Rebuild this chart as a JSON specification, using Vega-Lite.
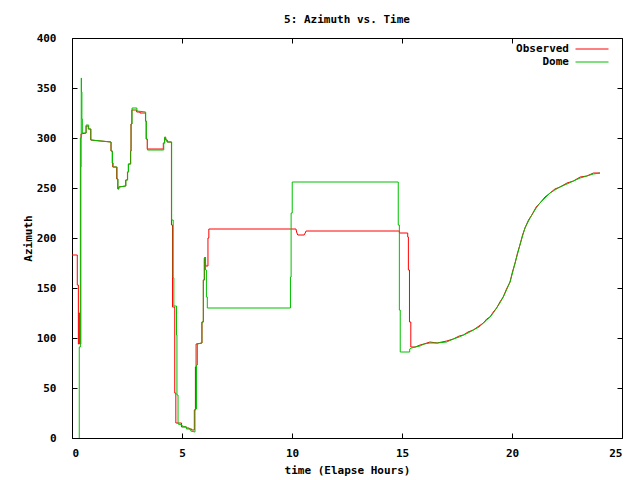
{
  "$schema": "https://vega.github.io/schema/vega-lite/v6.json",
  "width": 550,
  "height": 400,
  "autosize": {"type": "none"},
  "padding": {"left": 72, "top": 38, "right": 18, "bottom": 42},
  "background": "white",
  "title": {"text": "5: Azimuth vs. Time", "font": "DejaVu Sans Mono", "fontSize": 11, "fontWeight": "bold", "color": "black", "offset": 7},
  "config": {
    "view": {"stroke": "black", "strokeWidth": 1},
    "axis": {"domain": false, "grid": false, "ticks": true, "tickColor": "black", "tickSize": -5, "tickWidth": 1,
      "labelFont": "DejaVu Sans Mono", "labelFontSize": 11, "labelFontWeight": "bold", "labelColor": "black",
      "titleFont": "DejaVu Sans Mono", "titleFontSize": 11, "titleFontWeight": "bold", "titleColor": "black"}
  },
  "data": {"values": [
    {"s":"Observed","t":0,"v":183},{"s":"Observed","t":0.24,"v":183},{"s":"Observed","t":0.24,"v":153},{"s":"Observed","t":0.29,"v":153},{"s":"Observed","t":0.29,"v":94},{"s":"Observed","t":0.32,"v":94},{"s":"Observed","t":0.32,"v":125},{"s":"Observed","t":0.35,"v":125},{"s":"Observed","t":0.35,"v":94},{"s":"Observed","t":0.40,"v":94},{"s":"Observed","t":0.40,"v":271},{"s":"Observed","t":0.41,"v":271},{"s":"Observed","t":0.41,"v":304},{"s":"Observed","t":0.64,"v":305},{"s":"Observed","t":0.64,"v":312},{"s":"Observed","t":0.74,"v":312},{"s":"Observed","t":0.74,"v":309},{"s":"Observed","t":0.85,"v":309},{"s":"Observed","t":0.85,"v":298},{"s":"Observed","t":1.77,"v":296},{"s":"Observed","t":1.77,"v":287},{"s":"Observed","t":1.83,"v":287},{"s":"Observed","t":1.83,"v":275},{"s":"Observed","t":1.85,"v":275},{"s":"Observed","t":1.85,"v":271},{"s":"Observed","t":2.03,"v":271},{"s":"Observed","t":2.03,"v":259},{"s":"Observed","t":2.08,"v":259},{"s":"Observed","t":2.08,"v":249},{"s":"Observed","t":2.12,"v":249},{"s":"Observed","t":2.12,"v":251},{"s":"Observed","t":2.44,"v":252},{"s":"Observed","t":2.44,"v":258},{"s":"Observed","t":2.52,"v":258},{"s":"Observed","t":2.52,"v":266},{"s":"Observed","t":2.56,"v":266},{"s":"Observed","t":2.56,"v":274},{"s":"Observed","t":2.66,"v":274},{"s":"Observed","t":2.66,"v":287},{"s":"Observed","t":2.68,"v":287},{"s":"Observed","t":2.68,"v":314},{"s":"Observed","t":2.72,"v":314},{"s":"Observed","t":2.72,"v":328},{"s":"Observed","t":2.94,"v":328},{"s":"Observed","t":2.94,"v":326},{"s":"Observed","t":3.09,"v":326},{"s":"Observed","t":3.09,"v":325},{"s":"Observed","t":3.34,"v":325},{"s":"Observed","t":3.34,"v":317},{"s":"Observed","t":3.37,"v":317},{"s":"Observed","t":3.37,"v":299},{"s":"Observed","t":3.42,"v":299},{"s":"Observed","t":3.42,"v":289},{"s":"Observed","t":4.15,"v":289},{"s":"Observed","t":4.15,"v":295},{"s":"Observed","t":4.21,"v":295},{"s":"Observed","t":4.21,"v":300},{"s":"Observed","t":4.26,"v":300},{"s":"Observed","t":4.26,"v":298},{"s":"Observed","t":4.33,"v":298},{"s":"Observed","t":4.33,"v":296},{"s":"Observed","t":4.52,"v":296},{"s":"Observed","t":4.52,"v":213},{"s":"Observed","t":4.57,"v":213},{"s":"Observed","t":4.57,"v":131},{"s":"Observed","t":4.67,"v":131},{"s":"Observed","t":4.67,"v":45},{"s":"Observed","t":4.72,"v":45},{"s":"Observed","t":4.72,"v":15},{"s":"Observed","t":4.98,"v":15},{"s":"Observed","t":4.98,"v":11},{"s":"Observed","t":5.21,"v":11},{"s":"Observed","t":5.21,"v":10},{"s":"Observed","t":5.33,"v":10},{"s":"Observed","t":5.33,"v":9},{"s":"Observed","t":5.44,"v":9},{"s":"Observed","t":5.44,"v":8},{"s":"Observed","t":5.56,"v":8},{"s":"Observed","t":5.56,"v":28},{"s":"Observed","t":5.61,"v":28},{"s":"Observed","t":5.61,"v":71},{"s":"Observed","t":5.64,"v":71},{"s":"Observed","t":5.64,"v":94},{"s":"Observed","t":5.91,"v":95},{"s":"Observed","t":5.91,"v":116},{"s":"Observed","t":5.97,"v":116},{"s":"Observed","t":5.97,"v":158},{"s":"Observed","t":6.02,"v":158},{"s":"Observed","t":6.02,"v":178},{"s":"Observed","t":6.05,"v":181},{"s":"Observed","t":6.07,"v":175},{"s":"Observed","t":6.08,"v":172},{"s":"Observed","t":6.18,"v":172},{"s":"Observed","t":6.18,"v":200},{"s":"Observed","t":6.22,"v":200},{"s":"Observed","t":6.22,"v":209},{"s":"Observed","t":10.18,"v":209},{"s":"Observed","t":10.21,"v":206},{"s":"Observed","t":10.26,"v":203},{"s":"Observed","t":10.55,"v":203},{"s":"Observed","t":10.60,"v":205},{"s":"Observed","t":10.64,"v":207},{"s":"Observed","t":14.88,"v":207},{"s":"Observed","t":14.88,"v":205},{"s":"Observed","t":15.26,"v":205},{"s":"Observed","t":15.26,"v":201},{"s":"Observed","t":15.29,"v":201},{"s":"Observed","t":15.29,"v":168},{"s":"Observed","t":15.34,"v":168},{"s":"Observed","t":15.34,"v":116},{"s":"Observed","t":15.40,"v":116},{"s":"Observed","t":15.40,"v":91},{"s":"Observed","t":15.6,"v":91},{"s":"Observed","t":15.82,"v":93},{"s":"Observed","t":16.0,"v":94},{"s":"Observed","t":16.27,"v":96},{"s":"Observed","t":16.6,"v":95},{"s":"Observed","t":17.03,"v":97},{"s":"Observed","t":17.33,"v":99},{"s":"Observed","t":17.6,"v":102},{"s":"Observed","t":17.79,"v":103},{"s":"Observed","t":18.0,"v":106},{"s":"Observed","t":18.24,"v":108},{"s":"Observed","t":18.5,"v":112},{"s":"Observed","t":18.70,"v":115},{"s":"Observed","t":18.85,"v":119},{"s":"Observed","t":19.0,"v":121},{"s":"Observed","t":19.15,"v":126},{"s":"Observed","t":19.30,"v":130},{"s":"Observed","t":19.45,"v":136},{"s":"Observed","t":19.60,"v":141},{"s":"Observed","t":19.75,"v":149},{"s":"Observed","t":19.91,"v":156},{"s":"Observed","t":20.02,"v":166},{"s":"Observed","t":20.14,"v":175},{"s":"Observed","t":20.25,"v":185},{"s":"Observed","t":20.36,"v":193},{"s":"Observed","t":20.48,"v":203},{"s":"Observed","t":20.59,"v":210},{"s":"Observed","t":20.75,"v":218},{"s":"Observed","t":20.90,"v":223},{"s":"Observed","t":21.1,"v":231},{"s":"Observed","t":21.27,"v":235},{"s":"Observed","t":21.5,"v":241},{"s":"Observed","t":21.73,"v":245},{"s":"Observed","t":21.95,"v":249},{"s":"Observed","t":22.18,"v":251},{"s":"Observed","t":22.5,"v":255},{"s":"Observed","t":22.79,"v":257},{"s":"Observed","t":23.1,"v":261},{"s":"Observed","t":23.40,"v":262},{"s":"Observed","t":23.7,"v":265},{"s":"Observed","t":24.0,"v":265},
    {"s":"Dome","t":0.33,"v":0},{"s":"Dome","t":0.33,"v":91},{"s":"Dome","t":0.38,"v":91},{"s":"Dome","t":0.38,"v":300},{"s":"Dome","t":0.42,"v":300},{"s":"Dome","t":0.42,"v":360},{"s":"Dome","t":0.43,"v":360},{"s":"Dome","t":0.43,"v":346},{"s":"Dome","t":0.45,"v":346},{"s":"Dome","t":0.45,"v":319},{"s":"Dome","t":0.47,"v":319},{"s":"Dome","t":0.47,"v":305},{"s":"Dome","t":0.64,"v":305},{"s":"Dome","t":0.64,"v":313},{"s":"Dome","t":0.76,"v":313},{"s":"Dome","t":0.76,"v":309},{"s":"Dome","t":0.86,"v":309},{"s":"Dome","t":0.86,"v":298},{"s":"Dome","t":1.78,"v":296},{"s":"Dome","t":1.78,"v":287},{"s":"Dome","t":1.84,"v":287},{"s":"Dome","t":1.84,"v":275},{"s":"Dome","t":1.87,"v":275},{"s":"Dome","t":1.87,"v":271},{"s":"Dome","t":2.05,"v":271},{"s":"Dome","t":2.05,"v":259},{"s":"Dome","t":2.09,"v":259},{"s":"Dome","t":2.09,"v":249},{"s":"Dome","t":2.13,"v":249},{"s":"Dome","t":2.13,"v":251},{"s":"Dome","t":2.45,"v":252},{"s":"Dome","t":2.45,"v":258},{"s":"Dome","t":2.53,"v":258},{"s":"Dome","t":2.53,"v":266},{"s":"Dome","t":2.57,"v":266},{"s":"Dome","t":2.57,"v":274},{"s":"Dome","t":2.67,"v":274},{"s":"Dome","t":2.67,"v":287},{"s":"Dome","t":2.69,"v":287},{"s":"Dome","t":2.69,"v":314},{"s":"Dome","t":2.73,"v":314},{"s":"Dome","t":2.73,"v":330},{"s":"Dome","t":2.95,"v":330},{"s":"Dome","t":2.95,"v":327},{"s":"Dome","t":3.35,"v":326},{"s":"Dome","t":3.35,"v":317},{"s":"Dome","t":3.38,"v":317},{"s":"Dome","t":3.38,"v":299},{"s":"Dome","t":3.43,"v":299},{"s":"Dome","t":3.43,"v":288},{"s":"Dome","t":4.17,"v":288},{"s":"Dome","t":4.17,"v":295},{"s":"Dome","t":4.21,"v":295},{"s":"Dome","t":4.21,"v":301},{"s":"Dome","t":4.26,"v":301},{"s":"Dome","t":4.26,"v":298},{"s":"Dome","t":4.32,"v":298},{"s":"Dome","t":4.32,"v":296},{"s":"Dome","t":4.53,"v":296},{"s":"Dome","t":4.53,"v":218},{"s":"Dome","t":4.60,"v":218},{"s":"Dome","t":4.60,"v":160},{"s":"Dome","t":4.63,"v":160},{"s":"Dome","t":4.63,"v":132},{"s":"Dome","t":4.75,"v":132},{"s":"Dome","t":4.75,"v":103},{"s":"Dome","t":4.77,"v":103},{"s":"Dome","t":4.77,"v":43},{"s":"Dome","t":4.82,"v":43},{"s":"Dome","t":4.82,"v":14},{"s":"Dome","t":5.0,"v":13},{"s":"Dome","t":5.0,"v":12},{"s":"Dome","t":5.2,"v":11},{"s":"Dome","t":5.2,"v":9},{"s":"Dome","t":5.40,"v":9},{"s":"Dome","t":5.40,"v":7},{"s":"Dome","t":5.59,"v":6},{"s":"Dome","t":5.59,"v":29},{"s":"Dome","t":5.66,"v":29},{"s":"Dome","t":5.66,"v":73},{"s":"Dome","t":5.70,"v":73},{"s":"Dome","t":5.70,"v":94},{"s":"Dome","t":5.90,"v":95},{"s":"Dome","t":5.90,"v":116},{"s":"Dome","t":5.97,"v":116},{"s":"Dome","t":5.97,"v":158},{"s":"Dome","t":6.01,"v":158},{"s":"Dome","t":6.01,"v":180},{"s":"Dome","t":6.07,"v":180},{"s":"Dome","t":6.07,"v":168},{"s":"Dome","t":6.11,"v":168},{"s":"Dome","t":6.11,"v":141},{"s":"Dome","t":6.15,"v":141},{"s":"Dome","t":6.15,"v":130},{"s":"Dome","t":9.93,"v":130},{"s":"Dome","t":9.93,"v":161},{"s":"Dome","t":9.96,"v":161},{"s":"Dome","t":9.96,"v":225},{"s":"Dome","t":10.01,"v":225},{"s":"Dome","t":10.01,"v":256},{"s":"Dome","t":14.83,"v":256},{"s":"Dome","t":14.83,"v":213},{"s":"Dome","t":14.88,"v":213},{"s":"Dome","t":14.88,"v":128},{"s":"Dome","t":14.92,"v":128},{"s":"Dome","t":14.92,"v":86},{"s":"Dome","t":15.35,"v":86},{"s":"Dome","t":15.35,"v":89},{"s":"Dome","t":15.44,"v":90},{"s":"Dome","t":15.6,"v":91},{"s":"Dome","t":15.82,"v":92},{"s":"Dome","t":16.0,"v":94},{"s":"Dome","t":16.27,"v":95},{"s":"Dome","t":16.6,"v":95},{"s":"Dome","t":17.03,"v":96},{"s":"Dome","t":17.33,"v":99},{"s":"Dome","t":17.6,"v":101},{"s":"Dome","t":17.79,"v":103},{"s":"Dome","t":18.0,"v":105},{"s":"Dome","t":18.24,"v":108},{"s":"Dome","t":18.5,"v":111},{"s":"Dome","t":18.70,"v":115},{"s":"Dome","t":18.85,"v":118},{"s":"Dome","t":19.0,"v":121},{"s":"Dome","t":19.15,"v":125},{"s":"Dome","t":19.30,"v":130},{"s":"Dome","t":19.45,"v":135},{"s":"Dome","t":19.60,"v":141},{"s":"Dome","t":19.75,"v":148},{"s":"Dome","t":19.91,"v":156},{"s":"Dome","t":20.02,"v":165},{"s":"Dome","t":20.14,"v":175},{"s":"Dome","t":20.25,"v":184},{"s":"Dome","t":20.36,"v":193},{"s":"Dome","t":20.48,"v":202},{"s":"Dome","t":20.59,"v":210},{"s":"Dome","t":20.75,"v":217},{"s":"Dome","t":20.90,"v":223},{"s":"Dome","t":21.1,"v":230},{"s":"Dome","t":21.27,"v":235},{"s":"Dome","t":21.5,"v":240},{"s":"Dome","t":21.73,"v":245},{"s":"Dome","t":21.95,"v":248},{"s":"Dome","t":22.18,"v":251},{"s":"Dome","t":22.5,"v":254},{"s":"Dome","t":22.79,"v":257},{"s":"Dome","t":23.1,"v":260},{"s":"Dome","t":23.40,"v":262},{"s":"Dome","t":23.7,"v":264},{"s":"Dome","t":24.0,"v":265}
  ]},
  "layer": [
    {
      "transform": [{"filter": "datum.s === 'Observed'"}],
      "mark": {"type": "line", "strokeWidth": 1, "interpolate": "linear"},
      "encoding": {
        "x": {"field": "t", "type": "quantitative", "scale": {"domain": [0, 25], "nice": false, "zero": false},
          "axis": {"orient": "bottom", "values": [0, 5, 10, 15, 20, 25], "title": "time (Elapse Hours)", "labelPadding": 14, "titlePadding": 6}},
        "y": {"field": "v", "type": "quantitative", "scale": {"domain": [0, 400], "nice": false},
          "axis": {"orient": "left", "values": [0, 50, 100, 150, 200, 250, 300, 350, 400], "title": "Azimuth", "labelPadding": 21, "titlePadding": 3}},
        "color": {"field": "s", "type": "nominal",
          "scale": {"domain": ["Observed", "Dome"], "range": ["#ff0000", "#00c000"]},
          "legend": {"orient": "none", "legendX": 514, "legendY": 5, "title": null, "symbolType": "M-3,0H3", "symbolSize": 121, "symbolStrokeWidth": 1,
            "labelAlign": "right", "labelOffset": -29, "labelFont": "DejaVu Sans Mono", "labelFontSize": 11, "labelFontWeight": "bold", "labelColor": "black", "rowPadding": 2, "padding": 0}},
        "order": {"value": null}
      }
    },
    {
      "transform": [{"filter": "datum.s === 'Dome'"}],
      "mark": {"type": "line", "strokeWidth": 1, "interpolate": "linear"},
      "encoding": {
        "x": {"field": "t", "type": "quantitative",
          "axis": {"orient": "top", "values": [0, 5, 10, 15, 20, 25], "labels": false, "title": null}},
        "y": {"field": "v", "type": "quantitative",
          "axis": {"orient": "right", "values": [0, 50, 100, 150, 200, 250, 300, 350, 400], "labels": false, "title": null}},
        "color": {"field": "s", "type": "nominal"},
        "order": {"value": null}
      }
    }
  ],
  "resolve": {"axis": {"x": "independent", "y": "independent"}}
}
